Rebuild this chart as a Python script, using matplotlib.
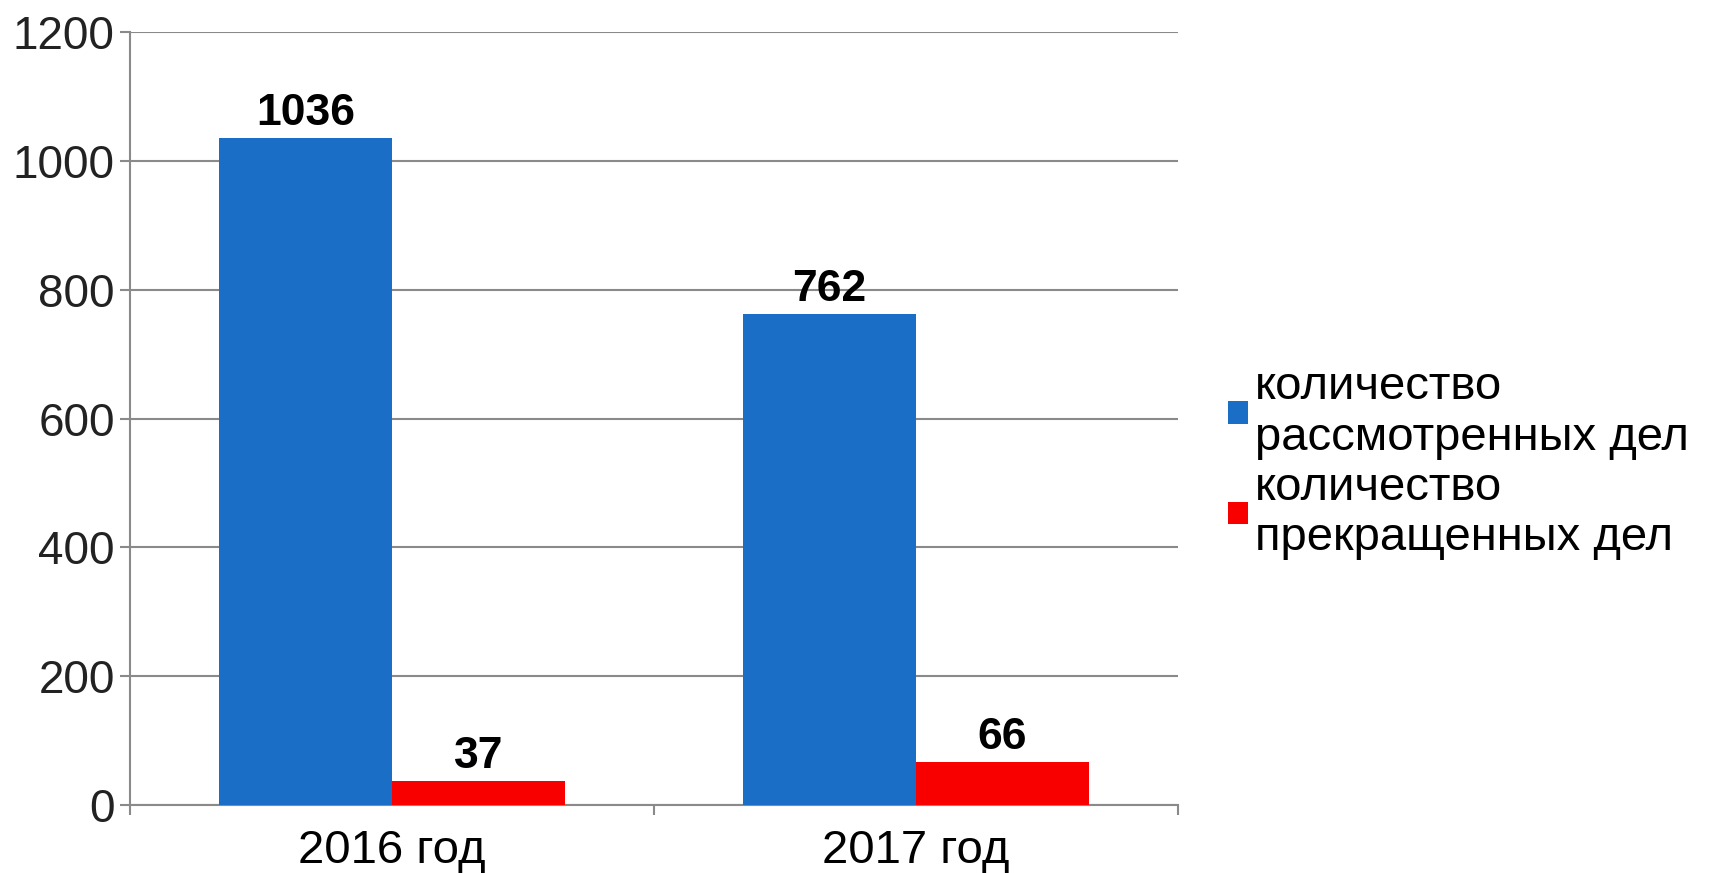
import matplotlib.pyplot as plt
import numpy as np

plt.rcParams['font.family'] = ['Liberation Sans', 'DejaVu Sans']

years = ['2016 год', '2017 год']
reviewed = [1036, 762]
stopped = [37, 66]
labels = ['количество\nрассмотренных дел', 'количество\nпрекращенных дел']

blue = '#1b6ec6'
red = '#f80000'
grid_c = '#8a8a8a'

fig = plt.figure(figsize=(17.13, 8.73), dpi=100)
ax = fig.add_axes([0.0759, 0.0779, 0.6118, 0.8854])

x = np.arange(len(years))
w = 0.33
b1 = ax.bar(x - w / 2, reviewed, w, color=blue, label=labels[0], zorder=3)
b2 = ax.bar(x + w / 2, stopped, w, color=red, label=labels[1], zorder=3)

for bars in (b1, b2):
    for r in bars:
        ax.annotate(str(int(r.get_height())),
                    (r.get_x() + r.get_width() / 2, r.get_height()),
                    xytext=(0, 3), textcoords='offset points',
                    ha='center', va='bottom', fontsize=32, fontweight='bold')

ax.set_xlim(-0.5, 1.5)
ax.set_ylim(0, 1200)
ax.set_yticks(range(0, 1201, 200))
ax.yaxis.grid(True, color=grid_c, lw=1.5, zorder=0)

ax.set_xticks(x)
ax.set_xticklabels(years)
ax.set_xticks([-0.5, 0.5, 1.5], minor=True)
ax.tick_params(axis='x', which='major', length=0, labelsize=34, pad=17)
ax.tick_params(axis='x', which='minor', length=7, width=1.5, color=grid_c)
ax.tick_params(axis='y', length=7, width=1.5, color=grid_c, labelsize=33, pad=4,
               labelcolor='#222222')

for s in ('top', 'right'):
    ax.spines[s].set_visible(False)
for s in ('left', 'bottom'):
    ax.spines[s].set_color(grid_c)
    ax.spines[s].set_linewidth(1.5)

fig.legend(loc='center left', bbox_to_anchor=(0.692, 0.470), frameon=False,
           fontsize=34, handlelength=0.42, handleheight=0.36, handletextpad=0.15,
           labelspacing=0.12)

fig.savefig('out.png', dpi=100)
